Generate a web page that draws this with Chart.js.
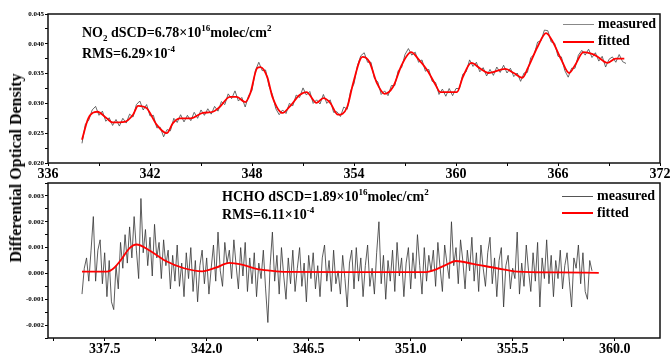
<!DOCTYPE html>
<html>
<head>
<meta charset="utf-8">
<script src="https://cdn.jsdelivr.net/npm/chart.js@4.4.0/dist/chart.umd.min.js"></script>
<style>
  body { margin: 0; background: #fff; }
  #wrap { position: relative; width: 670px; height: 355px; font-family: 'Liberation Serif', 'Times New Roman', serif; font-weight: bold; color: #000; }
  canvas { position: absolute; left: 0; }
  .txt { position: absolute; white-space: nowrap; font-size: 14px; line-height: 14px; }
  .txt sub, .txt sup { font-size: 9px; line-height: 0; }
  .legline { position: absolute; width: 31px; height: 0; }
  #ylab { position: absolute; left: 16px; top: 168px; transform: translate(-50%, -50%) rotate(-90deg); font-size: 16px; white-space: nowrap; }
</style>
</head>
<body>
<div id="wrap">
  <canvas id="no2" width="670" height="180" style="top:0"></canvas>
  <canvas id="hcho" width="670" height="175" style="top:180px"></canvas>

  <div id="ylab">Differential Optical Density</div>

  <div class="txt" style="left:82px;top:26px">NO<sub>2</sub> dSCD=6.78×10<sup>16</sup>molec/cm<sup>2</sup></div>
  <div class="txt" style="left:82px;top:47px">RMS=6.29×10<sup>-4</sup></div>
  <div class="legline" style="left:563px;top:24px;border-top:1px solid #888"></div>
  <div class="txt" style="left:598px;top:17px">measured</div>
  <div class="legline" style="left:563px;top:41px;border-top:2px solid #f00"></div>
  <div class="txt" style="left:598px;top:34px">fitted</div>

  <div class="txt" style="left:222px;top:190px">HCHO dSCD=1.89×10<sup>16</sup>molec/cm<sup>2</sup></div>
  <div class="txt" style="left:222px;top:208px">RMS=6.11×10<sup>-4</sup></div>
  <div class="legline" style="left:562px;top:196px;border-top:1px solid #555"></div>
  <div class="txt" style="left:597px;top:189px">measured</div>
  <div class="legline" style="left:562px;top:212px;border-top:2px solid #f00"></div>
  <div class="txt" style="left:597px;top:206px">fitted</div>
</div>

<script>
// NO2 panel: measured spectrum sampled every 0.2 nm from 338.0 nm
const no2MeasStart = 338.0;
const no2MeasStep = 0.2;
const no2Measured = [
  0.0233, 0.0265, 0.0272, 0.0289, 0.0295, 0.0280, 0.0287, 0.0270, 0.0276, 0.0263,
  0.0273, 0.0262, 0.0275, 0.0267, 0.0282, 0.0277, 0.0298, 0.0304, 0.0289, 0.0298,
  0.0279, 0.0280, 0.0259, 0.0260, 0.0244, 0.0256, 0.0254, 0.0275, 0.0268, 0.0281,
  0.0269, 0.0280, 0.0271, 0.0285, 0.0275, 0.0289, 0.0280, 0.0291, 0.0282, 0.0295,
  0.0287, 0.0303, 0.0298, 0.0316, 0.0308, 0.0321, 0.0304, 0.0310, 0.0294, 0.0313,
  0.0322, 0.0355, 0.0369, 0.0355, 0.0356, 0.0329, 0.0315, 0.0291, 0.0281, 0.0289,
  0.0283, 0.0300, 0.0296, 0.0314, 0.0310, 0.0326, 0.0314, 0.0320, 0.0300, 0.0306,
  0.0299, 0.0315, 0.0300, 0.0306, 0.0285, 0.0286, 0.0278, 0.0294, 0.0290, 0.0321,
  0.0333, 0.0363, 0.0380, 0.0385, 0.0369, 0.0369, 0.0342, 0.0336, 0.0315, 0.0321,
  0.0313, 0.0330, 0.0330, 0.0355, 0.0360, 0.0382, 0.0392, 0.0381, 0.0386, 0.0369,
  0.0373, 0.0354, 0.0357, 0.0337, 0.0335, 0.0315, 0.0324, 0.0312, 0.0325, 0.0313,
  0.0325, 0.0325, 0.0349, 0.0353, 0.0373, 0.0362, 0.0369, 0.0353, 0.0360, 0.0346,
  0.0357, 0.0347, 0.0361, 0.0352, 0.0364, 0.0351, 0.0359, 0.0345, 0.0351, 0.0337,
  0.0351, 0.0352, 0.0377, 0.0382, 0.0403, 0.0405, 0.0423, 0.0422, 0.0403, 0.0401,
  0.0379, 0.0378, 0.0355, 0.0344, 0.0359, 0.0359, 0.0381, 0.0389, 0.0381, 0.0391,
  0.0377, 0.0385, 0.0371, 0.0379, 0.0361, 0.0374, 0.0378, 0.0369, 0.0382, 0.0370,
  0.0367
];
// NO2 fit, points
const no2FitWl = [338.0, 338.37, 338.9, 339.45, 339.8, 340.5, 341.0, 341.3, 341.8, 342.4,
  342.98, 343.35, 343.76, 344.4, 345.1, 345.7, 346.1, 346.7, 347.1, 347.6,
  347.9, 348.3, 348.5, 348.9, 349.2, 349.8, 350.2, 350.8, 351.2, 351.8,
  352.2, 352.6, 353.06, 353.6, 353.95, 354.5, 354.9, 355.35, 355.8, 356.3,
  356.8, 357.35, 357.8, 358.3, 358.8, 359.06, 360.06, 360.4, 360.9, 361.4,
  361.9, 362.9, 363.4, 363.9, 364.25, 364.8, 365.3, 365.7, 366.2, 366.65,
  367.0, 367.5, 368.0, 368.35, 368.9, 369.4, 369.9];
const no2FitVal = [0.0239, 0.0275, 0.0286, 0.0275, 0.0268, 0.0269, 0.0281, 0.0296, 0.0292, 0.0264,
  0.0250, 0.0267, 0.0275, 0.0275, 0.0284, 0.0286, 0.0294, 0.0311, 0.0311, 0.0302,
  0.0317, 0.0359, 0.0361, 0.0344, 0.0311, 0.0284, 0.0294, 0.0314, 0.0319, 0.0301,
  0.0309, 0.0301, 0.0281, 0.0294, 0.0334, 0.0378, 0.0370, 0.0334, 0.0316, 0.0328,
  0.0364, 0.0386, 0.0374, 0.0356, 0.0331, 0.0319, 0.0319, 0.0344, 0.0368, 0.0359,
  0.0351, 0.0358, 0.0351, 0.0343, 0.0361, 0.0395, 0.0418, 0.0403, 0.0373, 0.0351,
  0.0364, 0.0386, 0.0383, 0.0378, 0.0368, 0.0375, 0.0375];

// HCHO panel: measured spectrum every 0.1 nm from 336.5 nm
const hchoMeasStart = 336.5;
const hchoMeasStep = 0.1;
const hchoMeasured = [
  -0.0008, 0.0002, 0.0006, -0.0003, 0.0009,
  0.0022, -0.0003, 0.0009, 0.0013, -0.0004, 0.0008, -0.0009, 0.0005, -0.0011, -0.0014,
  0.0003, -0.0006, 0.0012, 0.0002, 0.0015, 0.0004, 0.0018, 0.0006, 0.0022, 0.0009,
  -0.0002, 0.0029, 0.0008, 0.0017, 0.0003, 0.0014, -0.0001, 0.0019, 0.0006, 0.0012,
  -0.0002, 0.0013, 0.0003, 0.0009, -0.0006, 0.0007, -0.0003, 0.0011, -0.0005, 0.0004,
  -0.0009, 0.0008, -0.0002, 0.0010, -0.0007, 0.0005, -0.0011, 0.0003, 0.0009, -0.0004,
  0.0006, -0.0008, 0.0002, 0.0011, -0.0003, 0.0016, 0.0001, -0.0005, 0.0012, 0.0004,
  0.0009, -0.0002, 0.0013, 0.0003, -0.0006, 0.0010, -0.0001, 0.0012, -0.0007, 0.0006,
  -0.0004, 0.0008, -0.0009, 0.0004, -0.0002, 0.0009, -0.0006, -0.0019, 0.0003, 0.0016,
  -0.0003, 0.0007, -0.0008, 0.0010, -0.0001, -0.0010, 0.0006, -0.0004, 0.0009, -0.0007,
  0.0002, 0.0010, -0.0005, 0.0004, -0.0011, 0.0007, -0.0002, 0.0008, -0.0006, 0.0003,
  -0.0009, 0.0006, 0.0011, -0.0003, 0.0005, -0.0007, 0.0009, -0.0004, 0.0001, -0.0008,
  0.0007, -0.0002, -0.0013, 0.0004, 0.0009, -0.0006, 0.0010, -0.0003, 0.0006, -0.0009,
  0.0003, 0.0011, -0.0005, 0.0002, -0.0008, 0.0008, 0.0020, -0.0004, 0.0007, -0.0010,
  0.0005, -0.0003, 0.0009, -0.0007, 0.0012, -0.0001, 0.0006, -0.0009, 0.0004, 0.0010,
  -0.0006, 0.0008, -0.0002, 0.0015, 0.0003, -0.0008, 0.0010, -0.0003, 0.0007, 0.0001,
  0.0009, -0.0005, 0.0012, 0.0002, -0.0007, 0.0011, 0.0004, -0.0002, 0.0020, 0.0003,
  0.0010, -0.0004, 0.0013, 0.0005, -0.0006, 0.0009, 0.0001, 0.0014, -0.0003, 0.0008,
  -0.0007, 0.0011, 0.0002, -0.0005, 0.0008, 0.0014, -0.0004, 0.0006, -0.0009, 0.0005,
  0.0010, -0.0013, 0.0003, 0.0007, -0.0006, 0.0002, -0.0002, 0.0016, -0.0008, 0.0004,
  -0.0005, 0.0011, 0.0001, -0.0007, 0.0008, -0.0003, 0.0012, -0.0013, 0.0006, -0.0002,
  0.0013, -0.0004, 0.0007, -0.0009, 0.0005, -0.0002, 0.0009, -0.0006, 0.0003, 0.0008,
  -0.0003, -0.0013, 0.0006, 0.0002, 0.0011, -0.0004, 0.0008, -0.0007, -0.0010, 0.0005,
  0.0001
];
const hchoFitWl = [336.5, 337.6, 337.9, 338.2, 338.6, 338.9, 339.5, 340.2, 341.0, 341.8,
  342.4, 343.0, 343.6, 344.2, 344.8, 345.5, 348.0, 351.6, 352.1, 352.6,
  353.0, 353.75, 354.8, 355.7, 357.5, 359.3];
const hchoFitVal = [0.00007, 0.00007, 0.0002, 0.0005, 0.00098, 0.00112, 0.00088, 0.00048, 0.0002, 0.00008,
  0.00022, 0.00041, 0.00033, 0.00018, 0.00011, 0.00006, 0.00005, 0.00005, 0.00015, 0.00035,
  0.00048, 0.00037, 0.0002, 0.00007, 0.00004, 0.00002];

// axis ticks (majors carry labels, minors are blank)
const no2XTicks = [336, 339, 342, 345, 348, 351, 354, 357, 360, 363, 366, 369, 372];
const no2XLabels = ['336', '', '342', '', '348', '', '354', '', '360', '', '366', '', '372'];
const no2YTicks = [0.020, 0.0225, 0.025, 0.0275, 0.030, 0.0325, 0.035, 0.0375, 0.040, 0.0425, 0.045];
const no2YLabels = ['0.020', '', '0.025', '', '0.030', '', '0.035', '', '0.040', '', '0.045'];
const hchoXTicks = [335.25, 337.5, 339.75, 342.0, 344.25, 346.5, 348.75, 351.0, 353.25, 355.5, 357.75, 360.0];
const hchoXLabels = ['', '337.5', '', '342.0', '', '346.5', '', '351.0', '', '355.5', '', '360.0'];
const hchoYTicks = [-0.0025, -0.002, -0.0015, -0.001, -0.0005, 0, 0.0005, 0.001, 0.0015, 0.002, 0.0025, 0.003, 0.0035];
const hchoYLabels = ['', '-0.002', '', '-0.001', '', '0.000', '', '0.001', '', '0.002', '', '0.003', ''];

const SERIF = "'Liberation Serif', 'Times New Roman', serif";

const framePlugin = {
  id: 'frame',
  afterDraw(chart) {
    const a = chart.chartArea;
    const ctx = chart.ctx;
    ctx.save();
    ctx.strokeStyle = '#111';
    ctx.lineWidth = 1.5;
    ctx.strokeRect(a.left, a.top, a.right - a.left, a.bottom - a.top);
    ctx.restore();
  }
};

function axis(kind, min, max, ticks, labels, fontSize) {
  return {
    type: 'linear',
    min: min,
    max: max,
    afterBuildTicks: s => { s.ticks = ticks.map(v => ({ value: v })); },
    afterFit: s => {
      if (kind === 'x') { s.height = 17; s.paddingLeft = 0; s.paddingRight = 0; }
      else { s.width = 48; s.paddingTop = 0; s.paddingBottom = 0; }
    },
    border: { display: false },
    grid: { drawOnChartArea: false, drawTicks: true, tickLength: 3, tickColor: '#000', tickWidth: 1 },
    ticks: {
      autoSkip: false,
      maxRotation: 0,
      padding: kind === 'x' ? 0 : 1,
      color: '#000',
      font: { family: SERIF, weight: 'bold', size: fontSize },
      callback: (v, i) => labels[i]
    }
  };
}

function makePanel(id, meas, start, step, fitWl, fitVal, measColor, xs, ys, padTop) {
  const measPts = meas.map((v, i) => ({ x: start + i * step, y: v }));
  const fitPts = fitWl.map((w, i) => ({ x: w, y: fitVal[i] }));
  return new Chart(document.getElementById(id), {
    type: 'line',
    data: {
      datasets: [
        { label: 'fitted', data: fitPts, borderColor: '#ff0000', borderWidth: 1.8, pointRadius: 0, cubicInterpolationMode: 'monotone', order: 0 },
        { label: 'measured', data: measPts, borderColor: measColor, borderWidth: 0.8, pointRadius: 0, tension: 0, order: 1 }
      ]
    },
    options: {
      responsive: false,
      animation: false,
      devicePixelRatio: 1,
      layout: { padding: { left: 0, right: 10, top: padTop, bottom: 0 } },
      plugins: { legend: { display: false }, tooltip: { enabled: false } },
      scales: { x: xs, y: ys }
    },
    plugins: [framePlugin]
  });
}

makePanel('no2', no2Measured, no2MeasStart, no2MeasStep, no2FitWl, no2FitVal, '#444',
  axis('x', 336, 372, no2XTicks, no2XLabels, 14),
  axis('y', 0.020, 0.045, no2YTicks, no2YLabels, 7), 14);

makePanel('hcho', hchoMeasured, hchoMeasStart, hchoMeasStep, hchoFitWl, hchoFitVal, '#333',
  axis('x', 335, 362, hchoXTicks, hchoXLabels, 14),
  axis('y', -0.0025, 0.0035, hchoYTicks, hchoYLabels, 7), 3);
</script>
</body>
</html>
